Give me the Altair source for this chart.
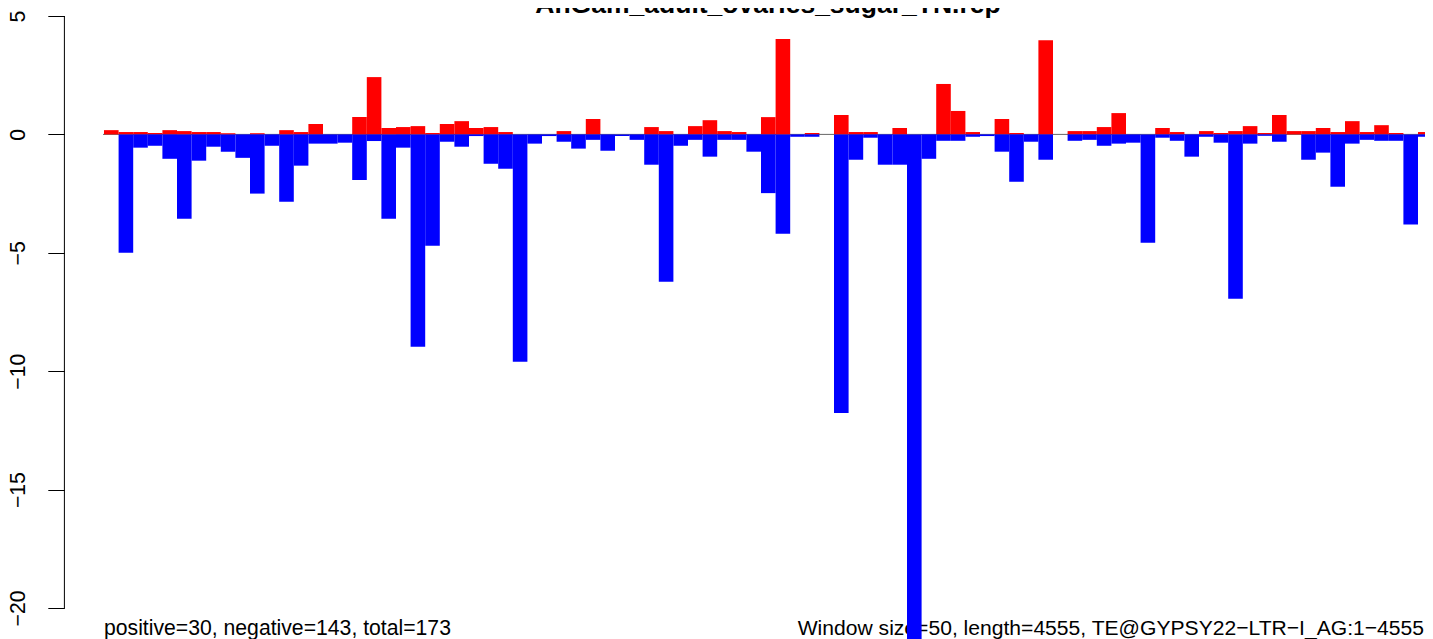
import altair as alt
import pandas as pd

# sense (positive, red) and antisense (negative, blue) signal per 50-nt window
positive = [0.18, 0.1, 0.1, 0.06, 0.18, 0.14, 0.1, 0.1, 0.05, 0, 0.05, 0, 0.18, 0.1, 0.44,
            0, 0, 0.73, 2.42, 0.27, 0.31, 0.35, 0.06, 0.44, 0.56, 0.27, 0.31, 0.1, 0, 0,
            0, 0.14, 0, 0.65, 0, 0, 0, 0.31, 0.14, 0, 0.35, 0.6, 0.14, 0.1, 0,
            0.73, 4.03, 0, 0.06, 0, 0.82, 0.1, 0.1, 0, 0.27, 0, 0, 2.13, 0.99, 0.1,
            0, 0.65, 0.06, 0, 3.98, 0, 0.14, 0.14, 0.31, 0.9, 0, 0, 0.27, 0.1, 0,
            0.14, 0.06, 0.14, 0.35, 0.06, 0.82, 0.14, 0.14, 0.27, 0.1, 0.56, 0.1, 0.39, 0.06, 0,
            0.1]
negative = [0, -5.0, -0.56, -0.48, -1.03, -3.56, -1.11, -0.52, -0.73, -0.99, -2.5, -0.48, -2.84, -1.32, -0.39,
            -0.39, -0.35, -1.93, -0.28, -3.56, -0.56, -8.97, -4.7, -0.31, -0.52, -0.07, -1.24, -1.45, -9.6, -0.39,
            -0.07, -0.31, -0.6, -0.23, -0.69, -0.07, -0.23, -1.28, -6.22, -0.48, -0.23, -0.94, -0.23, -0.23, -0.73,
            -2.48, -4.2, -0.1, -0.1, 0, -11.77, -1.07, -0.14, -1.28, -1.28, -22.0, -1.03, -0.27, -0.27, -0.1,
            -0.07, -0.73, -2.0, -0.31, -1.07, 0, -0.27, -0.23, -0.48, -0.39, -0.35, -4.58, -0.14, -0.27, -0.94,
            -0.1, -0.35, -6.94, -0.39, -0.06, -0.31, 0, -1.07, -0.77, -2.21, -0.39, -0.23, -0.27, -0.27, -3.8,
            -0.1]
y_ticks = [-20, -15, -10, -5, 0, 5]
title_text = "AnGam_adult_ovaries_sugar_TN.rep"
left_note = "positive=30, negative=143, total=173"
right_note = "Window size=50, length=4555, TE@GYPSY22\u2212LTR\u2212I_AG:1\u22124555"

n = len(positive)
rows = []
for i in range(n):
    rows.append({"start": i, "end": i + 1, "value": positive[i], "strand": "pos"})
for i in range(n):
    rows.append({"start": i, "end": i + 1, "value": negative[i], "strand": "neg"})
df = pd.DataFrame(rows)

BAR_PX = 14.6          # pixels per window
W = 1321               # plot width that fits the page body (1417 - 96)
H = 634
PX_PER_UNIT = 23.68
Y_TOP = 5.338
FONT = "Liberation Sans"

xs = alt.Scale(domain=[0, W / BAR_PX], nice=False, zero=False)
ys = alt.Scale(domain=[Y_TOP - H / PX_PER_UNIT, Y_TOP], nice=False, zero=False)

yaxis = alt.Axis(values=y_ticks, domain=False, grid=False, offset=39.6, tickSize=16.6,
                 tickColor="black", tickWidth=1, labelAngle=270, labelAlign="center",
                 labelBaseline="middle", labelPadding=29.8, labelFont=FONT, labelFontSize=21.2,
                 labelColor="black", labelFlush=False, labelOverlap=False, title=None)

bars = alt.Chart(df).mark_rect().encode(
    x=alt.X("start:Q", scale=xs, axis=None), x2="end:Q",
    y=alt.Y("value:Q", scale=ys, axis=yaxis), y2=alt.datum(0),
    color=alt.Color("strand:N", scale=alt.Scale(domain=["pos", "neg"], range=["#FF0000", "#0000FF"]),
                    legend=None),
)

one = pd.DataFrame({"k": [0]})
zero_line = alt.Chart(one).mark_rule(color="#666666", strokeWidth=1).encode(
    x=alt.value(-1), x2=alt.value(W), y=alt.datum(0)
)
axis_line = alt.Chart(one).mark_rule(color="black", strokeWidth=1).encode(
    x=alt.value(-39.6), y=alt.datum(y_ticks[0]), y2=alt.datum(y_ticks[-1])
)

title = alt.Chart(pd.DataFrame({"t": [title_text]})).mark_text(
    font=FONT, fontSize=26.5, fontWeight="bold", align="center", baseline="alphabetic",
    color="black").encode(text="t:N", x=alt.value(664), y=alt.value(5))
left_t = alt.Chart(pd.DataFrame({"t": [left_note]})).mark_text(
    font=FONT, fontSize=21.2, align="left", baseline="alphabetic", color="black").encode(
    text="t:N", x=alt.value(0), y=alt.value(626.8))
right_t = alt.Chart(pd.DataFrame({"t": [right_note]})).mark_text(
    font=FONT, fontSize=21.1, align="right", baseline="alphabetic", color="black").encode(
    text="t:N", x=alt.value(1320), y=alt.value(626.8))

chart = alt.layer(zero_line, axis_line, title, left_t, right_t, bars).properties(
    width=W, height=H,
    autosize=alt.AutoSizeParams(type="none"),
    padding={"left": 96, "top": 0, "right": 0, "bottom": 0},
).configure(background="white").configure_view(stroke=None, strokeWidth=0, strokeOpacity=0)

chart.save("out.html", embed_options={"renderer": "svg", "actions": False})
